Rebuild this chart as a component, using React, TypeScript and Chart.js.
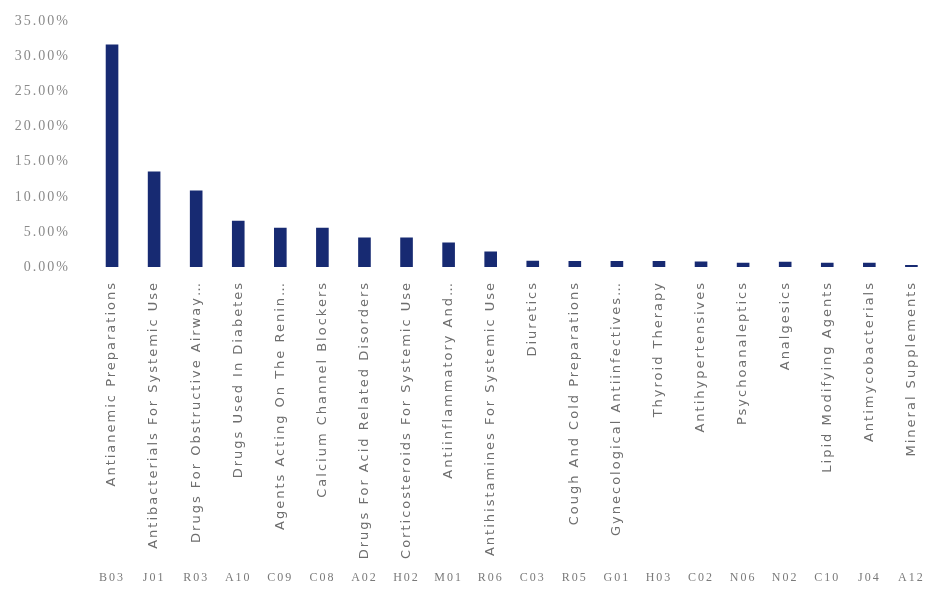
import React, { useEffect, useRef } from "react";
import { Chart, registerables } from "chart.js";

Chart.register(...registerables);

// Therapeutic class names (ATC level 2) and their codes
const classNames = [
  "Antianemic Preparations",
  "Antibacterials For Systemic Use",
  "Drugs For Obstructive Airway…",
  "Drugs Used In Diabetes",
  "Agents Acting On The Renin…",
  "Calcium Channel Blockers",
  "Drugs For Acid Related Disorders",
  "Corticosteroids For Systemic Use",
  "Antiinflammatory And…",
  "Antihistamines For Systemic Use",
  "Diuretics",
  "Cough And Cold Preparations",
  "Gynecological Antiinfectives…",
  "Thyroid Therapy",
  "Antihypertensives",
  "Psychoanaleptics",
  "Analgesics",
  "Lipid Modifying Agents",
  "Antimycobacterials",
  "Mineral Supplements",
];

const atcCodes = [
  "B03", "J01", "R03", "A10", "C09", "C08", "A02", "H02", "M01", "R06",
  "C03", "R05", "G01", "H03", "C02", "N06", "N02", "C10", "J04", "A12",
];

// Share of prescriptions per class, in percent
const shares = [
  31.7, 13.6, 10.9, 6.6, 5.6, 5.6, 4.2, 4.2, 3.5, 2.2,
  0.9, 0.85, 0.85, 0.85, 0.8, 0.6, 0.75, 0.6, 0.6, 0.3,
];

const yTicks = [0, 5, 10, 15, 20, 25, 30, 35];

// Wider letter spacing for all axis text
const spacedText = {
  id: "spacedText",
  beforeDraw(chart: any) {
    chart.ctx.letterSpacing = "2px";
  },
};

export default function App() {
  const canvasRef = useRef<HTMLCanvasElement | null>(null);

  useEffect(() => {
    if (!canvasRef.current) return;
    const chart = new Chart(canvasRef.current, {
      type: "bar",
      data: {
        labels: classNames,
        datasets: [
          {
            data: shares,
            backgroundColor: "#172a72",
            borderWidth: 0,
            barPercentage: 0.3,
            categoryPercentage: 1,
          },
        ],
      },
      plugins: [spacedText],
      options: {
        animation: false,
        responsive: false,
        layout: { padding: { top: -6, right: 0, bottom: 0, left: 0 } },
        plugins: {
          legend: { display: false },
          tooltip: { enabled: false },
        },
        scales: {
          y: {
            min: 0,
            max: 35,
            afterBuildTicks: (scale: any) => {
              scale.ticks = yTicks.map((v) => ({ value: v }));
            },
            afterFit: (scale: any) => {
              scale.width = 91;
            },
            grid: { display: false },
            border: { display: false },
            ticks: {
              padding: 13,
              color: "#8a8a8a",
              font: { family: "'Liberation Serif'", size: 14 },
              callback: (v: any) => Number(v).toFixed(2) + "%",
            },
          },
          x: {
            position: "bottom",
            afterFit: (scale: any) => {
              scale.height = 292;
            },
            grid: { display: false },
            border: { display: false },
            ticks: {
              autoSkip: false,
              minRotation: 90,
              maxRotation: 90,
              padding: 6,
              color: "#6e6e6e",
              font: { family: "'DejaVu Sans'", size: 13 },
            },
          },
          x2: {
            type: "category",
            position: "bottom",
            labels: atcCodes,
            offset: true,
            afterFit: (scale: any) => {
              scale.height = 34;
            },
            grid: { display: false },
            border: { display: false },
            ticks: {
              autoSkip: false,
              maxRotation: 0,
              minRotation: 0,
              padding: 4,
              color: "#7a7a7a",
              font: { family: "'Liberation Serif'", size: 12 },
            },
          },
        },
      },
    });
    return () => chart.destroy();
  }, []);

  return (
    <div
      style={{
        position: "absolute",
        left: 0,
        top: 0,
        width: 929,
        height: 593,
        overflow: "hidden",
        background: "#ffffff",
      }}
    >
      <canvas ref={canvasRef} width={933} height={593} style={{ display: "block" }} />
    </div>
  );
}
